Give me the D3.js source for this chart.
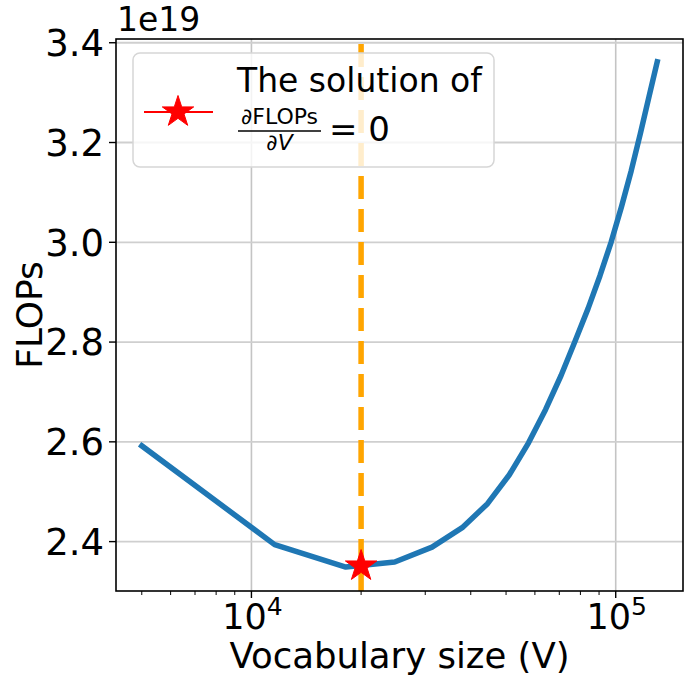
<!DOCTYPE html>
<html>
<head>
<meta charset="utf-8">
<script src="https://cdn.jsdelivr.net/npm/d3@7"></script>
<style>
  body { margin: 0; background: #fff; }
  text { font-family: "DejaVu Sans", sans-serif; fill: #000; }
</style>
</head>
<body>
<svg id="chart" width="685" height="677"></svg>
<script>
// Vocabulary sizes swept (V) and the training FLOPs at each size (in units of 1e19)
const vocabSizes = [5000, 11579, 18158, 24737, 31316, 37895, 44474, 51053, 57632, 64211,
                    70789, 77368, 83947, 90526, 97105, 103684, 110263, 116842, 123421, 130000];
const flopsValues = [2.592, 2.394, 2.349, 2.359, 2.389, 2.428, 2.476, 2.534, 2.598, 2.665,
                     2.733, 2.802, 2.867, 2.933, 3.000, 3.071, 3.143, 3.218, 3.292, 3.362];
// Analytic optimum where dFLOPs/dV = 0
const optimumV = [20000];
const optimumFlops = [2.352];
// Axis ticks
const yTicks = [2.4, 2.6, 2.8, 3.0, 3.2, 3.4];
const yTickLabels = ["2.4", "2.6", "2.8", "3.0", "3.2", "3.4"];
const xTicks = [1e4, 1e5];
const xTickExponents = ["4", "5"];

const svg = d3.select("#chart");
const plot = { left: 116, right: 683, top: 39, bottom: 591 };

// log x domain padded by 5% of the data span on each side
const lx = d3.extent(vocabSizes).map(Math.log10);
const padX = (lx[1] - lx[0]) * 0.05;
const x = d3.scaleLog()
  .domain([Math.pow(10, lx[0] - padX), Math.pow(10, lx[1] + padX)])
  .range([plot.left, plot.right]);
const y = d3.scaleLinear()
  .domain([2.301, 3.4075])
  .range([plot.bottom, plot.top]);

// grid
const grid = svg.append("g");
grid.selectAll("line.gx").data(xTicks).join("line")
  .attr("x1", d => x(d)).attr("x2", d => x(d))
  .attr("y1", plot.top).attr("y2", plot.bottom)
  .attr("stroke", "#c4c4c4").attr("stroke-width", 1.6);
grid.selectAll("line.gy").data(yTicks).join("line")
  .attr("x1", plot.left).attr("x2", plot.right)
  .attr("y1", d => y(d)).attr("y2", d => y(d))
  .attr("stroke", "#cfcfcf").attr("stroke-width", 1.8);

// optimum vertical marker line
svg.append("line")
  .attr("x1", x(optimumV[0])).attr("x2", x(optimumV[0]))
  .attr("y1", plot.top + 5).attr("y2", plot.bottom)
  .attr("stroke", "#ffa500").attr("stroke-width", 5.5)
  .attr("stroke-dasharray", "23,10");

// FLOPs curve
const line = d3.line().x(d => x(d[0])).y(d => y(d[1]));
svg.append("path")
  .datum(vocabSizes.map((v, i) => [v, flopsValues[i]]))
  .attr("d", line)
  .attr("fill", "none")
  .attr("stroke", "#1f77b4")
  .attr("stroke-width", 5.5)
  .attr("stroke-linejoin", "round")
  .attr("stroke-linecap", "square");

// five-point star path, outer radius R
function starPath(R) {
  const r = R * 0.381966;
  const pts = [];
  for (let k = 0; k < 10; k++) {
    const a = -Math.PI / 2 + k * Math.PI / 5;
    const rr = k % 2 === 0 ? R : r;
    pts.push([rr * Math.cos(a), rr * Math.sin(a)]);
  }
  return "M" + pts.map(p => p.join(",")).join("L") + "Z";
}

svg.selectAll("path.opt").data(optimumV).join("path")
  .attr("class", "opt")
  .attr("d", starPath(16.5))
  .attr("transform", (d, i) => `translate(${x(d)},${y(optimumFlops[i]) + 0.5})`)
  .attr("fill", "#ff0000").attr("stroke", "#ff0000").attr("stroke-width", 1);

// axes frame
svg.append("rect")
  .attr("x", plot.left).attr("y", plot.top)
  .attr("width", plot.right - plot.left).attr("height", plot.bottom - plot.top)
  .attr("fill", "none").attr("stroke", "#000").attr("stroke-width", 1.6);

// y ticks
const yAx = svg.append("g");
yAx.selectAll("line").data(yTicks).join("line")
  .attr("x1", plot.left - 7).attr("x2", plot.left)
  .attr("y1", d => y(d)).attr("y2", d => y(d))
  .attr("stroke", "#000").attr("stroke-width", 1.4);
yAx.selectAll("text").data(yTicks).join("text")
  .attr("x", plot.left - 12).attr("y", d => y(d))
  .attr("dy", "0.36em")
  .attr("text-anchor", "end")
  .attr("font-size", 37)
  .text((d, i) => yTickLabels[i]);

// x major ticks
const xAx = svg.append("g");
xAx.selectAll("line.maj").data(xTicks).join("line")
  .attr("x1", d => x(d)).attr("x2", d => x(d))
  .attr("y1", plot.bottom).attr("y2", plot.bottom + 7)
  .attr("stroke", "#000").attr("stroke-width", 1.4);
// x minor ticks
const minor = [];
[1e3, 1e4, 1e5].forEach(dec => {
  for (let m = 2; m <= 9; m++) {
    const v = dec * m;
    if (v > x.domain()[0] && v < x.domain()[1]) minor.push(v);
  }
});
xAx.selectAll("line.min").data(minor).join("line")
  .attr("x1", d => x(d)).attr("x2", d => x(d))
  .attr("y1", plot.bottom).attr("y2", plot.bottom + 4)
  .attr("stroke", "#000").attr("stroke-width", 1);
const xl = xAx.selectAll("text").data(xTicks).join("text")
  .attr("x", d => x(d) + 1).attr("y", 629)
  .attr("text-anchor", "middle")
  .attr("font-size", 35);
xl.append("tspan").text("10");
xl.append("tspan").attr("dy", -14).attr("font-size", 25).text((d, i) => xTickExponents[i]);

// offset text
svg.append("text").attr("x", 117).attr("y", 31).attr("font-size", 33).text("1e19");

// axis labels
svg.append("text")
  .attr("x", (plot.left + plot.right) / 2).attr("y", 668)
  .attr("text-anchor", "middle").attr("font-size", 35.5)
  .text("Vocabulary size (V)");
svg.append("text")
  .attr("transform", `translate(42,${(plot.top + plot.bottom) / 2}) rotate(-90)`)
  .attr("text-anchor", "middle").attr("font-size", 36)
  .text("FLOPs");

// legend
const lg = svg.append("g");
lg.append("rect")
  .attr("x", 133).attr("y", 53).attr("width", 361).attr("height", 114)
  .attr("rx", 7).attr("fill", "#fff").attr("fill-opacity", 0.8)
  .attr("stroke", "#d6d6d6").attr("stroke-width", 1.5);
lg.append("line")
  .attr("x1", 144).attr("x2", 213).attr("y1", 112).attr("y2", 112)
  .attr("stroke", "#ff0000").attr("stroke-width", 2.2);
lg.append("path").attr("d", starPath(16.5))
  .attr("transform", "translate(178,112)")
  .attr("fill", "#ff0000").attr("stroke", "#ff0000").attr("stroke-width", 1);
lg.append("text").attr("x", 237).attr("y", 92).attr("font-size", 33).text("The solution of");
lg.append("text").attr("x", 279.5).attr("y", 124).attr("text-anchor", "middle")
  .attr("font-size", 22).text("\u2202FLOPs");
lg.append("line").attr("x1", 238).attr("x2", 321).attr("y1", 131).attr("y2", 131)
  .attr("stroke", "#000").attr("stroke-width", 1.5);
const den = lg.append("text").attr("x", 279.5).attr("y", 150).attr("text-anchor", "middle")
  .attr("font-size", 22);
den.append("tspan").text("\u2202");
den.append("tspan").attr("font-style", "italic").text("V");
lg.append("text").attr("x", 329).attr("y", 141).attr("font-size", 34).text("= 0");
</script>
</body>
</html>
